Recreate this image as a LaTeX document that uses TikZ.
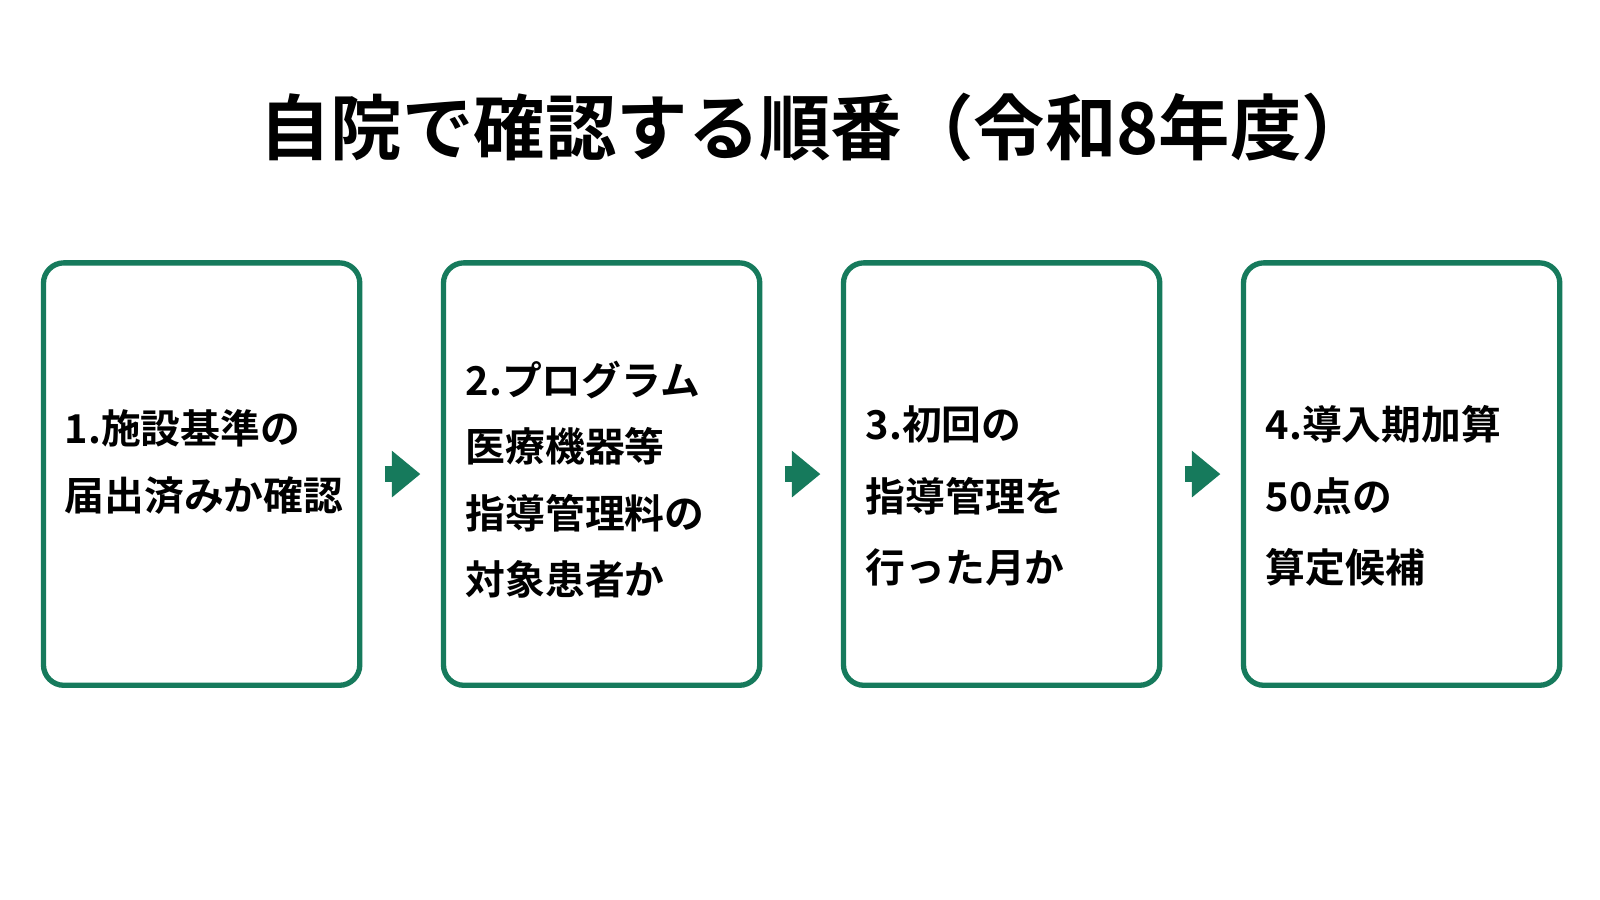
\documentclass[tikz,border=0pt]{standalone}
\usepackage{fontspec}
\setmainfont{Noto Sans CJK JP}[BoldFont={* Bold}]
\usetikzlibrary{arrows.meta}
\definecolor{gr}{HTML}{167A5C}
\begin{document}
\begin{tikzpicture}[x=0.5pt,y=-0.5pt,
 box/.style={draw=gr,line width=2.6pt,rounded corners=10pt,minimum width=155pt,minimum height=207pt,anchor=north west,inner sep=0pt},
 txt/.style={anchor=west,align=left,font=\bfseries\fontsize{19.5}{33}\selectfont,inner sep=0pt},
 arr/.style={draw=gr,line width=8pt,-{Triangle[length=14pt,width=22pt]}}]
\useasboundingbox[fill=white] (0,0) rectangle (1568,882);
\node[font=\bfseries\fontsize{35}{40}\selectfont] (title) at (800,125) {自院で確認する順番（令和8年度）};
\node[box] (b1) at (40,255) {};
\node[box] (b2) at (432,255) {};
\node[box] (b3) at (824,255) {};
\node[box] (b4) at (1216,255) {};
\node[txt,text depth=0pt] (t1) at (63,451) {1.施設基準の\\届出済みか確認};
\node[txt,font=\bfseries\fontsize{19.5}{32.5}\selectfont] (t2) at (456,470) {2.プログラム\\医療機器等\\指導管理料の\\対象患者か};
\node[txt,font=\bfseries\fontsize{19.5}{35}\selectfont] (t3) at (848,486) {3.初回の\\ 指導管理を\\ 行った月か};
\node[txt,font=\bfseries\fontsize{19.5}{35}\selectfont] (t4) at (1240,486) {4.導入期加算\\ 50点の\\ 算定候補};
\draw[arr] ([xshift=11pt]b1.east) -- ([xshift=-10pt]b2.west);
\draw[arr] ([xshift=11pt]b2.east) -- ([xshift=-10pt]b3.west);
\draw[arr] ([xshift=11pt]b3.east) -- ([xshift=-10pt]b4.west);
\end{tikzpicture}
\end{document}
